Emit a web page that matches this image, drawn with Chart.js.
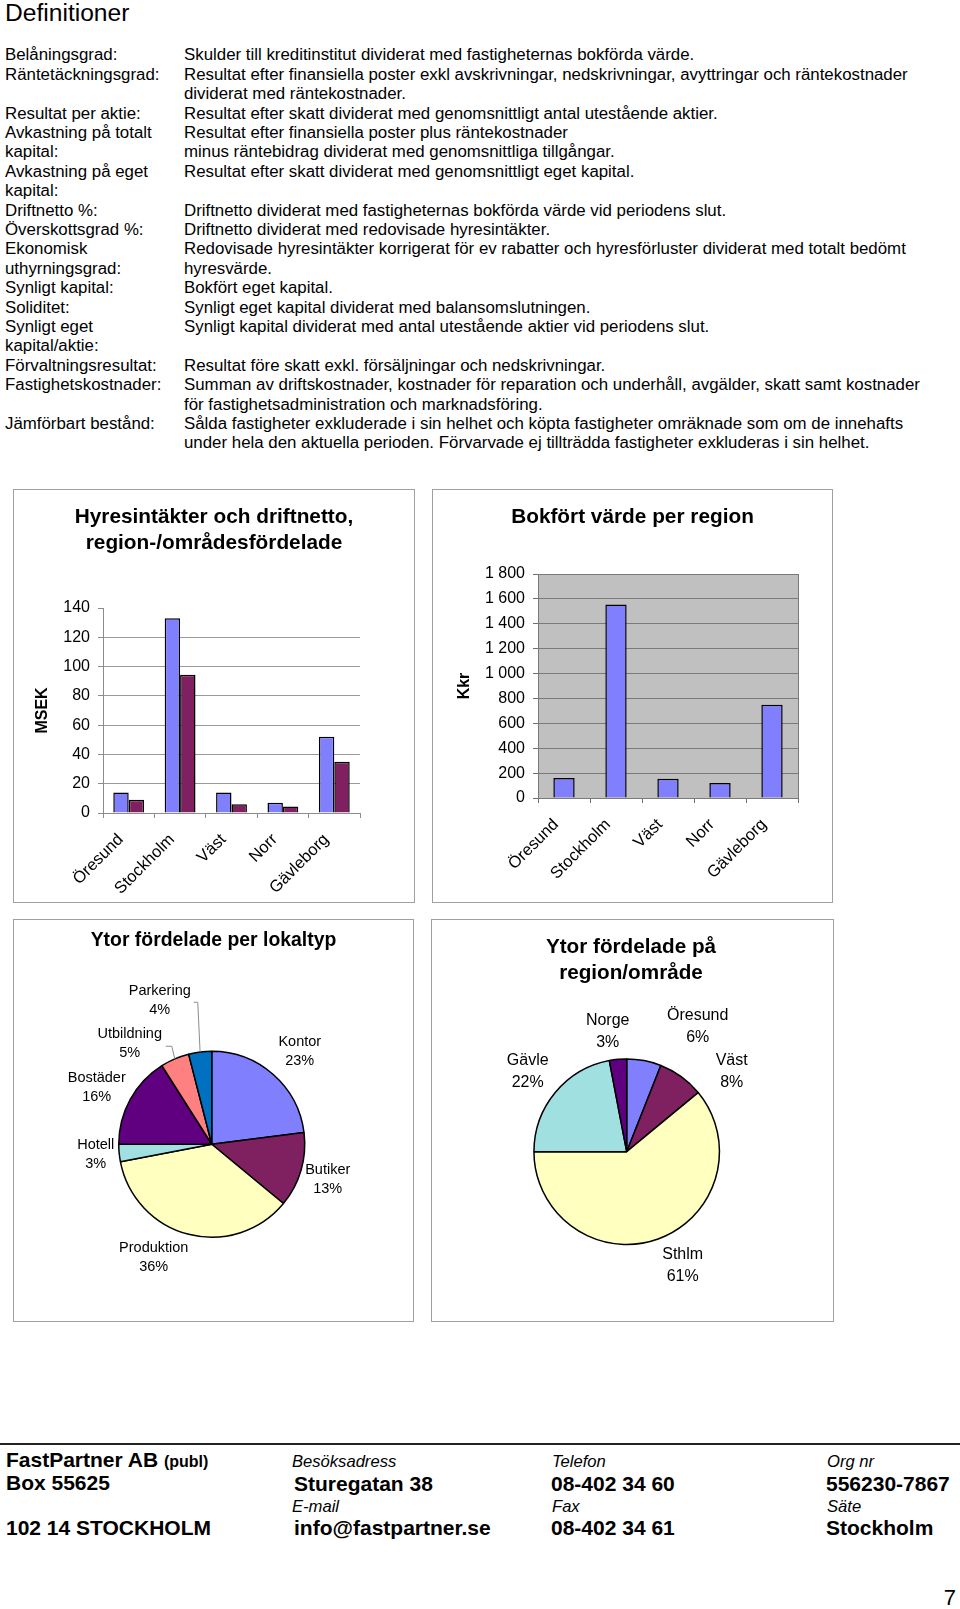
<!DOCTYPE html>
<html lang="sv">
<head>
<meta charset="utf-8">
<title>Definitioner</title>
<script src="https://cdn.jsdelivr.net/npm/chart.js@4.4.1/dist/chart.umd.min.js"></script>
<style>
  html, body { margin: 0; padding: 0; background: #fff; }
  body { position: relative; width: 960px; height: 1609px; overflow: hidden;
         font-family: "Liberation Sans", Arial, Helvetica, sans-serif; color: #000; }
  .t { position: absolute; white-space: pre; }
  .defs { font-size: 16.85px; line-height: 19.4px; top: 45.3px; }
  .box { position: absolute; border: 1px solid #a0a0a0; box-sizing: border-box; }
  canvas { position: absolute; }
  .ctitle { position: absolute; font-weight: bold; text-align: center; white-space: pre; line-height: 26px; }
  .fb { font-weight: bold; font-size: 21px; line-height: 24px; }
  .fi { font-style: italic; font-size: 16.6px; line-height: 20px; }
  .rule { position: absolute; left: 0; top: 1443px; width: 960px; height: 2px; background: #222; }
</style>
</head>
<body>

<div class="t" style="left:5px; top:-2px; font-size:24.6px; line-height:30px;">Definitioner</div>
<div id="defTerms" class="t defs" style="left:5px;"></div>
<div id="defTexts" class="t defs" style="left:184px;"></div>

<!-- diagramramar -->
<div class="box" style="left:13px; top:489px; width:402px; height:414px;"></div>
<div class="box" style="left:432px; top:489px; width:401px; height:414px;"></div>
<div class="box" style="left:13px; top:919px; width:401px; height:403px;"></div>
<div class="box" style="left:431px; top:919px; width:403px; height:403px;"></div>

<canvas id="hyresChart" width="402" height="414" style="left:13px; top:489px;"></canvas>
<canvas id="bokfortChart" width="401" height="414" style="left:432px; top:489px;"></canvas>
<canvas id="lokaltypChart" width="401" height="403" style="left:13px; top:919px;"></canvas>
<canvas id="regionChart" width="403" height="403" style="left:431px; top:919px;"></canvas>

<div class="ctitle" style="left:13px; width:402px; top:503px; font-size:20.8px;">Hyresintäkter och driftnetto,
region-/områdesfördelade</div>
<div class="ctitle" style="left:432px; width:401px; top:503px; font-size:20.8px;">Bokfört värde per region</div>
<div class="ctitle" style="left:13px; width:401px; top:926px; font-size:19.4px;">Ytor fördelade per lokaltyp</div>
<div class="ctitle" style="left:431px; width:400px; top:933px; font-size:20.7px;">Ytor fördelade på
region/område</div>

<!-- sidfot -->
<div class="rule"></div>
<div class="t fb" style="left:6px; top:1448px;">FastPartner AB <span style="font-size:16px;">(publ)</span></div>
<div class="t fb" style="left:6px; top:1471px;">Box 55625</div>
<div class="t fb" style="left:6px; top:1516px;">102 14 STOCKHOLM</div>
<div class="t fi" style="left:292px; top:1452px;">Besöksadress</div>
<div class="t fb" style="left:294px; top:1472px;">Sturegatan 38</div>
<div class="t fi" style="left:292px; top:1497px;">E-mail</div>
<div class="t fb" style="left:294px; top:1516px;">info@fastpartner.se</div>
<div class="t fi" style="left:552px; top:1452px;">Telefon</div>
<div class="t fb" style="left:551px; top:1472px;">08-402 34 60</div>
<div class="t fi" style="left:552px; top:1497px;">Fax</div>
<div class="t fb" style="left:551px; top:1516px;">08-402 34 61</div>
<div class="t fi" style="left:827px; top:1452px;">Org nr</div>
<div class="t fb" style="left:826px; top:1472px;">556230-7867</div>
<div class="t fi" style="left:827px; top:1497px;">Säte</div>
<div class="t fb" style="left:826px; top:1516px;">Stockholm</div>
<div class="t" style="right:4px; top:1585px; font-size:22px; line-height:26px;">7</div>

<script>
// ========================================================================
// Data
// ========================================================================
const defTerms = [
    'Belåningsgrad:', 'Räntetäckningsgrad:', '', 'Resultat per aktie:',
    'Avkastning på totalt', 'kapital:', 'Avkastning på eget', 'kapital:',
    'Driftnetto %:', 'Överskottsgrad %:', 'Ekonomisk', 'uthyrningsgrad:',
    'Synligt kapital:', 'Soliditet:', 'Synligt eget', 'kapital/aktie:',
    'Förvaltningsresultat:', 'Fastighetskostnader:', '', 'Jämförbart bestånd:', ''
];
const defTexts = [
    'Skulder till kreditinstitut dividerat med fastigheternas bokförda värde.',
    'Resultat efter finansiella poster exkl avskrivningar, nedskrivningar, avyttringar och räntekostnader',
    'dividerat med räntekostnader.',
    'Resultat efter skatt dividerat med genomsnittligt antal utestående aktier.',
    'Resultat efter finansiella poster plus räntekostnader',
    'minus räntebidrag dividerat med genomsnittliga tillgångar.',
    'Resultat efter skatt dividerat med genomsnittligt eget kapital.',
    '',
    'Driftnetto dividerat med fastigheternas bokförda värde vid periodens slut.',
    'Driftnetto dividerat med redovisade hyresintäkter.',
    'Redovisade hyresintäkter korrigerat för ev rabatter och hyresförluster dividerat med totalt bedömt',
    'hyresvärde.',
    'Bokfört eget kapital.',
    'Synligt eget kapital dividerat med balansomslutningen.',
    'Synligt kapital dividerat med antal utestående aktier vid periodens slut.',
    '',
    'Resultat före skatt exkl. försäljningar och nedskrivningar.',
    'Summan av driftskostnader, kostnader för reparation och underhåll, avgälder, skatt samt kostnader',
    'för fastighetsadministration och marknadsföring.',
    'Sålda fastigheter exkluderade i sin helhet och köpta fastigheter omräknade som om de innehafts',
    'under hela den aktuella perioden. Förvarvade ej tillträdda fastigheter exkluderas i sin helhet.'
];

// Stapeldiagram
const regionLabels = ['Öresund', 'Stockholm', 'Väst', 'Norr', 'Gävleborg'];
const hyresintakter = [14, 133, 14, 7, 52];      // MSEK
const driftnetto = [9, 94.5, 6, 4.5, 35];         // MSEK
const msekTicks = { min: 0, max: 140, step: 20 };
const bokfortVarde = [160, 1555, 155, 120, 750];  // Kkr
const kkrTicks = { min: 0, max: 1800, step: 200 };

// Cirkeldiagram
const lokaltyper = ['Kontor', 'Butiker', 'Produktion', 'Hotell', 'Bostäder', 'Utbildning', 'Parkering'];
const lokaltypAndel = [23, 13, 36, 3, 16, 5, 4];
const regioner = ['Öresund', 'Väst', 'Sthlm', 'Gävle', 'Norge'];
const regionAndel = [6, 8, 61, 22, 3];

// ========================================================================
// Färger & layout
// ========================================================================
const COL_BLUE = '#8080ff';
const COL_PLUM = '#7f2060';
const lokaltypColors = ['#8080ff', '#7f2060', '#ffffc0', '#a0e0e0', '#600080', '#ff8080', '#0070c0'];
const regionColors = ['#8080ff', '#7f2060', '#ffffc0', '#a0e0e0', '#600080'];

// etikettplacering relativt cirkelns mitt: [dx, dy, (ledlinje: x0, y0, xKnä, yKnä)]
const lokaltypLabelPos = [
    [88, -92.5], [116, 35.5], [-58, 113.5], [-116, 10.5], [-115, -56.5],
    [-82, -100.5, [36, 2.5, 42, 2.5]], [-52, -143.5, [34, 1.5, 38, 1.5]]
];
const regionLabelPos = [[71, -125], [105, -80], [56, 114], [-99, -80.5], [-19, -120]];

const FONT = '"Liberation Sans", Arial, Helvetica, sans-serif';
Chart.defaults.font.family = FONT;
Chart.defaults.color = '#000';

// ========================================================================
// Text
// ========================================================================
document.getElementById('defTerms').textContent = defTerms.join('\n');
document.getElementById('defTexts').textContent = defTexts.join('\n');

// ========================================================================
// Plugins
// ========================================================================
const plotBackground = {
    id: 'plotBackground',
    beforeDraw(chart, args, opts) {
        if (!opts.color) return;
        const { ctx, chartArea: a } = chart;
        ctx.save();
        ctx.fillStyle = opts.color;
        ctx.fillRect(a.left, a.top, a.width, a.height);
        ctx.restore();
    },
    afterDraw(chart, args, opts) {
        if (!opts.border) return;
        const { ctx, chartArea: a } = chart;
        ctx.save();
        ctx.strokeStyle = opts.border;
        ctx.lineWidth = 1;
        ctx.strokeRect(Math.round(a.left) + 0.5, Math.round(a.top) + 0.5, Math.round(a.width), Math.round(a.height));
        ctx.restore();
    }
};

const pieLabels = {
    id: 'pieLabels',
    afterDatasetsDraw(chart, args, opts) {
        const { ctx } = chart;
        const meta = chart.getDatasetMeta(0);
        const cx = meta.data[0].x;
        const cy = meta.data[0].y;
        const values = chart.data.datasets[0].data;
        ctx.save();
        ctx.font = opts.size + 'px ' + FONT;
        ctx.fillStyle = '#000';
        ctx.textAlign = 'center';
        ctx.textBaseline = 'middle';
        chart.data.labels.forEach((label, i) => {
            const pos = opts.positions[i];
            const x = cx + pos[0];
            const y = cy + pos[1];
            ctx.fillText(label, x, y - opts.gap / 2);
            ctx.fillText(values[i] + '%', x, y + opts.gap / 2);
            if (pos[2]) {
                // ledlinje till sektorns mitt på kanten
                const arc = meta.data[i];
                const mid = (arc.startAngle + arc.endAngle) / 2;
                ctx.strokeStyle = '#8c8c8c';
                ctx.lineWidth = 1;
                ctx.beginPath();
                ctx.moveTo(x + pos[2][0], y + pos[2][1]);
                ctx.lineTo(x + pos[2][2], y + pos[2][3]);
                ctx.lineTo(cx + Math.cos(mid) * arc.outerRadius, cy + Math.sin(mid) * arc.outerRadius);
                ctx.stroke();
            }
        });
        ctx.restore();
    }
};

// ========================================================================
// Hjälpfunktioner
// ========================================================================
function spaced(v) {
    return String(v).replace(/\B(?=(\d{3})+(?!\d))/g, ' ');
}

function barOptions(cfg) {
    return {
        responsive: false,
        devicePixelRatio: 1,
        animation: false,
        layout: { padding: { top: cfg.top, right: cfg.right, left: 0, bottom: 0 } },
        plugins: {
            legend: { display: false },
            tooltip: { enabled: false },
            plotBackground: { color: cfg.plotColor, border: cfg.plotBorder }
        },
        scales: {
            x: {
                grid: { display: true, drawOnChartArea: false, offset: true, tickLength: 5, color: cfg.lineColor },
                border: { color: cfg.lineColor },
                ticks: {
                    font: { size: 16.5 }, color: '#000', minRotation: 45, maxRotation: 45, autoSkip: false,
                    padding: 12, labelOffset: -8
                },
                afterFit: s => { s.height = cfg.xHeight; }
            },
            y: {
                min: cfg.ticks.min,
                max: cfg.ticks.max,
                ticks: { stepSize: cfg.ticks.step, font: { size: 16 }, color: '#000', padding: 8, callback: v => spaced(v) },
                grid: {
                    color: c => (c.tick && c.tick.value === cfg.ticks.max && cfg.hideTopGrid) ? 'rgba(0,0,0,0)' : cfg.gridColor,
                    tickColor: cfg.lineColor,
                    tickLength: 5
                },
                border: { color: cfg.lineColor },
                title: { display: true, text: cfg.yTitle, font: { size: 16, weight: 'bold' }, color: '#000', padding: { top: cfg.titlePad, bottom: 0 } },
                afterFit: s => { s.width = cfg.yWidth; }
            }
        }
    };
}

// ========================================================================
// Diagram
// ========================================================================
new Chart(document.getElementById('hyresChart'), {
    type: 'bar',
    data: {
        labels: regionLabels,
        datasets: [
            { label: 'Hyresintäkter', data: hyresintakter, backgroundColor: COL_BLUE, borderColor: '#000', borderWidth: 1.5, categoryPercentage: 0.6, barPercentage: 1 },
            { label: 'Driftnetto', data: driftnetto, backgroundColor: COL_PLUM, borderColor: '#000', borderWidth: 1.5, categoryPercentage: 0.6, barPercentage: 1 }
        ]
    },
    options: barOptions({
        top: 119, right: 55, xHeight: 90, yWidth: 90, titlePad: 20.4,
        ticks: msekTicks, yTitle: 'MSEK', lineColor: '#8c8c8c', gridColor: '#9a9a9a', hideTopGrid: true
    }),
    plugins: [plotBackground]
});

new Chart(document.getElementById('bokfortChart'), {
    type: 'bar',
    data: {
        labels: regionLabels,
        datasets: [
            { label: 'Bokfört värde', data: bokfortVarde, backgroundColor: COL_BLUE, borderColor: '#000', borderWidth: 1.5, categoryPercentage: 1, barPercentage: 0.41 }
        ]
    },
    options: barOptions({
        top: 85, right: 35, xHeight: 105, yWidth: 106, titlePad: 23.4,
        ticks: kkrTicks, yTitle: 'Kkr', lineColor: '#6e6e6e', gridColor: '#7a7a7a', hideTopGrid: false,
        plotColor: '#c0c0c0', plotBorder: '#7a7a7a'
    }),
    plugins: [plotBackground]
});

function pieOptions(padding, positions, size, gap) {
    return {
        responsive: false,
        devicePixelRatio: 1,
        animation: false,
        layout: { padding: padding },
        plugins: {
            legend: { display: false },
            tooltip: { enabled: false },
            pieLabels: { positions: positions, size: size, gap: gap }
        }
    };
}

new Chart(document.getElementById('lokaltypChart'), {
    type: 'pie',
    data: {
        labels: lokaltyper,
        datasets: [{ data: lokaltypAndel, backgroundColor: lokaltypColors, borderColor: '#000', borderWidth: 1.5 }]
    },
    options: pieOptions({ left: 105, right: 108.5, top: 131.5, bottom: 84 }, lokaltypLabelPos, 14.5, 19),
    plugins: [pieLabels]
});

new Chart(document.getElementById('regionChart'), {
    type: 'pie',
    data: {
        labels: regioner,
        datasets: [{ data: regionAndel, backgroundColor: regionColors, borderColor: '#000', borderWidth: 1.5 }]
    },
    options: pieOptions({ left: 102.2, right: 113.8, top: 139.2, bottom: 76.8 }, regionLabelPos, 16, 22),
    plugins: [pieLabels]
});
</script>
</body>
</html>
